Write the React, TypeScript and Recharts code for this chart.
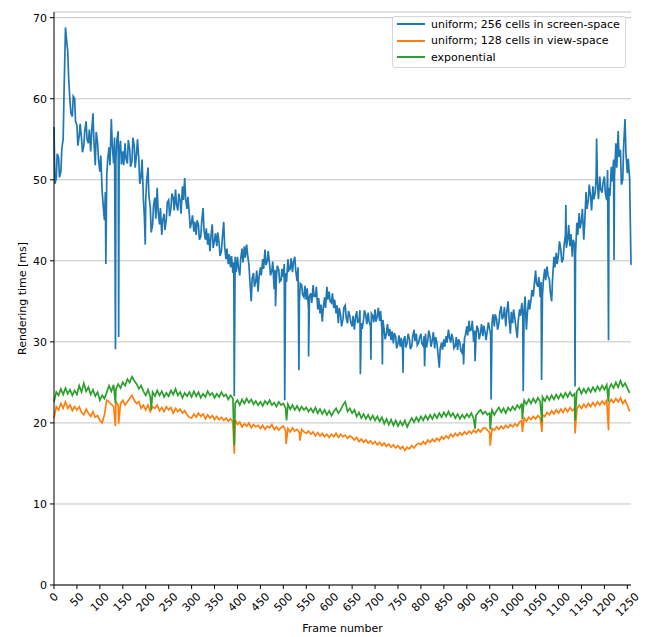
import { LineChart, Line, XAxis, YAxis, CartesianGrid } from "recharts";

// frames are sampled every STEP frames (plus an in-between sample for the noisy
// screen-space series); single-frame dips are listed separately
const STEP = 5;
const MID = 2;
const FONT = 11;

const seriesNames = [
  "uniform; 256 cells in screen-space",
  "uniform; 128 cells in view-space",
  "exponential",
];
const seriesColors = ["#1f77b4", "#ff7f0e", "#2ca02c"];

const xTicks = [
  0, 50, 100, 150, 200, 250, 300, 350, 400, 450, 500, 550, 600, 650, 700, 750,
  800, 850, 900, 950, 1000, 1050, 1100, 1150, 1200, 1250,
];
const yTicks = [0, 10, 20, 30, 40, 50, 60, 70];

const screenSpaceMs = [
  56.5, 50.2, 52.7, 51, 55, 68.8, 65.8, 59.6, 57.8, 60,
  56.7, 55.4, 55.1, 54.2, 57.2, 54.5, 53.5, 58.2, 51.8, 54.6,
  51, 48.6, 45, 50.5, 54, 57.5, 52, 52.5, 56, 54.8,
  53.5, 54.5, 52, 53.8, 52.3, 54.2, 53.2, 52.5, 50.5, 47.5,
  47.5, 51.5, 46.5, 44.5, 47.8, 49, 44.5, 43.2, 45.8, 45.2,
  47.5, 46.5, 47.8, 48.8, 46.2, 47.4, 49.2, 50.2, 46.4, 45.8,
  44.8, 43.6, 43.2, 44.4, 43, 46.5, 42.6, 42, 41.2, 44.5,
  42.5, 41.8, 42.2, 41.2, 44.8, 40.2, 39.6, 39.2, 38.5, 40.5,
  40.5, 38.2, 41.5, 41.8, 42, 39.5, 35, 38.5, 37.5, 36.2,
  39.2, 40.2, 41.4, 40, 39.6, 38.8, 36.5, 38, 38.9, 37.6,
  38, 38.5, 40.2, 39, 38.6, 40.5, 37.5, 35, 37, 35.5,
  35.2, 34, 36, 37, 35.6, 34, 33.5, 32.5, 35.5, 36.8,
  36.2, 34.8, 34.2, 33.5, 32.3, 33.2, 32.8, 34.5, 32.3, 33.2,
  31.9, 31.5, 33.8, 32.5, 32.3, 32.8, 33.2, 33.6, 32, 33.2,
  34, 33.2, 32.6, 31.5, 31.4, 31.1, 30.7, 30.2, 29.8, 30.6,
  29.8, 29.4, 29, 30.7, 29.9, 30.3, 29.5, 31.5, 31, 29.9,
  31, 29.5, 31, 30.2, 30.6, 30.3, 29.2, 29.8, 26.8, 29.9,
  30.3, 30.7, 31.5, 29.9, 30.3, 29.5, 29, 29.9, 28.6, 30.5,
  31.9, 32.6, 31.5, 30, 30.5, 31.5, 31.1, 30.7, 31.1, 31.5,
  31.5, 32.3, 31.9, 32.8, 32.3, 34.4, 33.2, 31.9, 35, 31,
  32.3, 32.8, 30.5, 34, 34.8, 34, 31.5, 35.2, 35.2, 35.6,
  38.8, 36.8, 35.5, 35.8, 39, 39.3, 37.7, 35, 40.5, 41,
  40.8, 41.4, 40.2, 43.2, 42.6, 41.8, 40.5, 42, 44.7, 45.9,
  45, 42.6, 48.5, 47.5, 47.9, 49.2, 48.4, 49.5, 50.4, 48.4,
  50.4, 47.5, 49, 51.6, 52.5, 54.5, 56, 53.7, 50, 57.5,
  50.8, 50.2,
];
// in-between samples (frame 5i + 2)
const screenSpaceMidMs = [
  49.5, 53.2, 50.3, 53.8, 61, 67.5, 62.5, 58.2, 60.3, 57.2,
  54.2, 56.9, 53.4, 56, 55, 56.2, 55.8, 54.8, 55.9, 52.5,
  53, 47, 48.5, 52.5, 51.8, 54.3, 55.2, 54.8, 53.2, 51.9,
  51.8, 52.6, 54.9, 51.6, 55.2, 51.5, 55, 49.5, 52.5, 45.5,
  49.8, 48, 43.5, 46.8, 45.2, 46.2, 46.5, 45, 43.8, 47.2,
  45.5, 48.3, 46.2, 47, 48.3, 45.8, 47.5, 47.6, 47.9, 44,
  45.6, 44.8, 45, 42.6, 44.8, 43.8, 44, 43.4, 42.9, 41.6,
  43.4, 43.5, 40.6, 42.8, 41.8, 41.5, 40.8, 40.6, 39.8, 38.6,
  39.2, 40.2, 39.8, 40.4, 40.8, 37.6, 37.8, 36.8, 38.8, 38,
  38.2, 39, 39.5, 41.2, 38.2, 39.9, 38.9, 39.4, 37.4, 39,
  39.6, 37.4, 38.8, 40.3, 39.8, 38.8, 39.2, 37.2, 35.8, 36.9,
  36.6, 35.6, 34.8, 35.6, 36.8, 35.4, 34.6, 34.2, 34.2, 35.2,
  35, 36, 35.2, 34.5, 34.2, 31.9, 34.2, 33, 33.8, 32.4,
  33.2, 32.9, 32.4, 33.9, 31.6, 33.9, 32.2, 32.5, 33.5, 32.4,
  32.5, 34.2, 33.8, 32.7, 30.3, 32.2, 31.6, 31.3, 31.1, 29.2,
  30.8, 30.5, 30.2, 29.3, 31, 29.1, 30.6, 30.1, 29.6, 30.5,
  29.8, 30.7, 29.3, 31.4, 29.4, 31.2, 30.6, 28.6, 29.2, 29,
  29.4, 29.9, 30.6, 31, 29.2, 30.6, 30.3, 28.9, 29.8, 30.8,
  30.8, 31.4, 32.6, 31.4, 32, 30.3, 32.2, 32, 30.2, 32.4,
  30.9, 33.4, 33.4, 31.5, 33.6, 32.8, 34.3, 33.6, 33, 33.7,
  34, 31.8, 32.5, 33.2, 33.2, 35.6, 33.5, 34, 36.4, 37,
  37.2, 38, 37.4, 37.6, 37.6, 38.2, 36.2, 37.8, 39.2, 39.6,
  42.4, 39.8, 41.8, 41.6, 44.4, 43.3, 42.6, 40.8, 43.2, 44,
  46.4, 44.6, 46.4, 49.4, 46.2, 47.6, 50.4, 47.6, 48.8, 49.6,
  48.4, 51.2, 48, 49.8, 50.4, 51.5, 52.8, 49.4, 54.2, 53.2,
  52.6,
];
const screenSpaceSpikes: [number, number][] = [
  [113, 39.6], [134, 29.1], [141, 30.6], [199, 42], [393, 23.3], [483, 34.4],
  [503, 22.8], [534, 26.5], [555, 28.2], [668, 26], [691, 27.8], [716, 27.2],
  [761, 26.2], [808, 27], [893, 27.2], [918, 27.6], [953, 22.9], [1023, 23.9],
  [1063, 25.3], [1116, 46.9], [1136, 24.5], [1183, 55.1], [1209, 30.2],
  [1221, 40.1], [1258, 39.5],
];

const viewSpaceMs = [
  20.6, 22, 21.6, 22.4, 21.8, 22.6, 21.8, 22.2, 21.5, 22,
  21.6, 22, 21.3, 21, 21.7, 21.2, 20.8, 21.4, 20.7, 20.9,
  20.3, 20, 21, 22.8, 22.6, 22.3, 22, 22.6, 22.2, 22.4,
  22.8, 22.2, 22.6, 23, 23.4, 22.8, 22.4, 22.6, 21.8, 22.2,
  21.6, 22.2, 21.4, 22, 21.8, 22.2, 21.5, 21.9, 21.4, 22,
  21.6, 21.9, 21.2, 21.8, 21.4, 21.7, 21.2, 21.5, 21, 20.7,
  20.6, 21.1, 20.7, 21.2, 20.8, 21.1, 20.5, 21, 20.6, 20.9,
  20.4, 20.8, 20.4, 20.7, 20.3, 20.6, 20.2, 20.5, 20.1, 20.4,
  19.8, 20.1, 19.5, 19.9, 19.6, 20, 19.4, 19.8, 19.5, 19.7,
  19.3, 19.7, 19.2, 19.6, 19.4, 19.8, 19.2, 19.5, 19.1, 19.4,
  19.6, 19, 19.3, 18.9, 19.4, 19, 19.2, 18.8, 19.2, 18.9,
  18.7, 19, 18.6, 18.9, 18.4, 18.8, 18.4, 18.7, 18.3, 18.6,
  18.2, 18.6, 18.3, 18.7, 18.2, 18.6, 18.3, 18.5, 18.1, 18.4,
  18.2, 17.9, 18.2, 17.7, 18, 17.6, 17.9, 17.5, 17.8, 17.4,
  17.7, 17.3, 17.6, 17.2, 17.5, 17.1, 17.4, 17, 17.3, 16.9,
  17.2, 16.8, 17.1, 16.6, 17, 16.8, 17.2, 16.9, 17.3, 17.5,
  17.3, 17.7, 17.4, 17.9, 17.6, 18, 17.7, 18.1, 17.8, 18.3,
  18, 18.4, 18.1, 18.6, 18.3, 18.7, 18.4, 18.8, 18.5, 18.9,
  18.6, 19, 18.7, 19.1, 18.8, 19.2, 18.9, 19.3, 19.4, 19.1,
  18.8, 19.3, 19.1, 19.5, 19.2, 19.6, 19.3, 19.7, 19.4, 19.8,
  19.5, 19.9, 19.6, 20.1, 20.3, 20.6, 20.2, 20.7, 20.4, 20.8,
  20.5, 20.9, 20.6, 21, 20.8, 21.3, 21, 21.5, 21.1, 21.6,
  21.2, 21.7, 21.3, 21.8, 21.4, 21.9, 21.5, 21.8, 21.7, 22.2,
  21.8, 22.3, 21.9, 22.4, 22, 22.5, 22.1, 22.6, 22.2, 22.7,
  22.3, 22.8, 22.4, 22.9, 22.5, 23, 22.6, 23.1, 22.4, 22.8,
  22.2, 21.4,
];
const viewSpaceSpikes: [number, number][] = [
  [134, 19.6], [141, 19.9], [393, 16.2], [506, 17.4], [536, 17.8],
  [951, 17.2], [1021, 18.9], [1064, 18.9], [1136, 18.7], [1209, 19.1],
];

const exponentialMs = [
  22.6, 23.8, 23.4, 24.2, 23.5, 24.3, 23.6, 24.1, 23.4, 24,
  23.5, 24.6, 23.8, 24.9, 23.9, 24.4, 23.5, 24.1, 23.3, 23.8,
  22.8, 23.4, 23, 23.8, 24.6, 23.9, 24.7, 24.2, 24.8, 24.3,
  25, 24.6, 25.4, 25, 25.7, 25.2, 24.8, 24.2, 24.6, 23.9,
  23.4, 24.1, 23.2, 23.8, 23.3, 24, 23.4, 23.9, 23.2, 23.7,
  23.3, 24, 23.5, 24.2, 23.4, 23.8, 23.1, 23.7, 23.3, 23.8,
  23.2, 23.9, 23.3, 23.8, 23.1, 23.6, 23.2, 23.9, 23.4, 23.7,
  23.1, 23.6, 23.2, 23.8, 23.3, 23.5, 22.9, 23.4, 23, 22.4,
  22.8, 22.2, 22.9, 22.4, 23, 22.5, 22.9, 22.3, 22.7, 22.2,
  22.6, 22.1, 22.7, 22.3, 22.8, 22.2, 22.5, 22, 22.6, 22.2,
  22.4, 21.8, 22.3, 21.7, 22.2, 21.6, 22.1, 21.5, 22, 21.6,
  21.9, 21.4, 21.8, 21.3, 21.9, 21.2, 21.7, 21.1, 21.6, 21,
  21.5, 20.9, 21.4, 21.8, 21.2, 21.6, 22.2, 22.6, 21.4, 21.8,
  21.2, 21.6, 20.8, 21.3, 20.6, 21.1, 20.5, 21, 20.4, 20.9,
  20.3, 20.8, 20.2, 20.7, 19.9, 20.5, 19.8, 20.4, 19.7, 20.3,
  19.6, 20.2, 19.7, 20.3, 19.5, 20.1, 20.6, 20.1, 20.7, 20.2,
  20.8, 20.3, 20.9, 20.4, 21, 20.5, 21.1, 20.6, 21.2, 20.7,
  21.3, 20.8, 21.4, 20.8, 21.2, 20.6, 21.1, 20.5, 21, 20.6,
  21.1, 20.7, 21.2, 20.5, 20.9, 21.3, 21.6, 21.1, 21.4, 21,
  21.2, 21.6, 21, 21.5, 21.9, 21.3, 21.8, 21.2, 21.9, 21.5,
  22, 21.6, 22.2, 21.8, 22.4, 22.8, 22.3, 22.9, 22.4, 23,
  22.5, 23.1, 22.6, 23.2, 22.7, 23.3, 22.8, 23.4, 22.9, 23.5,
  23, 23.6, 23.1, 23.7, 23.2, 23.8, 23.3, 23.6, 23.9, 24.3,
  23.6, 24.2, 23.7, 24.3, 23.8, 24.4, 23.9, 24.5, 24, 24.6,
  24.1, 24.7, 24.2, 24.8, 24.3, 25, 24.4, 25.2, 24.5, 24.9,
  24.3, 23.7,
];
const exponentialSpikes: [number, number][] = [
  [134, 22.4], [212, 21.6], [393, 17.2], [507, 20.3], [918, 19.3],
  [951, 19.2], [1021, 20.5], [1064, 20.1], [1136, 20.3], [1209, 22.6],
];

function buildSeries(
  values: number[],
  spikes: [number, number][],
  mids: number[] = []
) {
  const pts = values.map((ms, i) => ({ frame: i * STEP, ms }));
  mids.forEach((ms, i) => pts.push({ frame: i * STEP + MID, ms }));
  spikes.forEach(([frame, ms]) => pts.push({ frame, ms }));
  return pts.sort((a, b) => a.frame - b.frame);
}

const series = [
  buildSeries(screenSpaceMs, screenSpaceSpikes, screenSpaceMidMs),
  buildSeries(viewSpaceMs, viewSpaceSpikes),
  buildSeries(exponentialMs, exponentialSpikes),
];

// rotated label whose bounding box is centred under the tick, like matplotlib
function FrameTick({ x, y, payload }: any) {
  const label = String(payload.value);
  const off = (label.length * 0.64 * FONT + FONT) / 2.83;
  return (
    <g transform={`translate(${x},${y + off})`}>
      <text
        transform="rotate(-45)"
        textAnchor="middle"
        dominantBaseline="central"
        fontSize={FONT}
        fill="#000"
      >
        {label}
      </text>
    </g>
  );
}

export default function App() {
  return (
    <div
      style={{
        position: "absolute",
        left: 0,
        top: 0,
        width: 649,
        height: 637,
        background: "#fff",
        fontFamily: "'DejaVu Sans', sans-serif",
      }}
    >
      <LineChart
        width={649}
        height={637}
        margin={{ top: 12, right: 18, bottom: 0, left: 0 }}
      >
        <CartesianGrid vertical={false} stroke="#c4c4c4" strokeWidth={1} />
        <XAxis
          dataKey="frame"
          type="number"
          domain={[0, 1258]}
          ticks={xTicks}
          height={52}
          tickSize={4}
          tickMargin={2}
          stroke="#000"
          tick={<FrameTick />}
          interval={0}
          label={(props: any) => {
            const vb = props.viewBox;
            return (
              <text
                x={vb.x + vb.width / 2}
                y={vb.y + 47}
                textAnchor="middle"
                fontSize={FONT}
                fill="#000"
              >
                Frame number
              </text>
            );
          }}
        />
        <XAxis
          xAxisId="top"
          orientation="top"
          type="number"
          domain={[0, 1258]}
          height={0}
          tick={false}
          tickLine={false}
          stroke="#000"
        />
        <YAxis
          type="number"
          domain={[0, 70.7]}
          ticks={yTicks}
          width={54}
          tickSize={4}
          tickMargin={3}
          stroke="#000"
          tick={{ fill: "#000", fontSize: FONT }}
          interval={0}
          label={(props: any) => {
            const vb = props.viewBox;
            const cx = vb.x + 22;
            const cy = vb.y + vb.height / 2;
            return (
              <text
                x={cx}
                y={cy}
                transform={`rotate(-90 ${cx} ${cy})`}
                textAnchor="middle"
                dominantBaseline="central"
                fontSize={FONT}
                fill="#000"
              >
                Rendering time [ms]
              </text>
            );
          }}
        />
        <YAxis
          yAxisId="right"
          orientation="right"
          width={0}
          tick={false}
          tickLine={false}
          stroke="#000"
        />
        {series.map((data, i) => (
          <Line
            key={seriesNames[i]}
            data={data}
            dataKey="ms"
            name={seriesNames[i]}
            type="linear"
            stroke={seriesColors[i]}
            strokeWidth={1.7}
            dot={false}
            activeDot={false}
            isAnimationActive={false}
          />
        ))}
      </LineChart>
      <div
        style={{
          position: "absolute",
          left: 392,
          top: 16,
          width: 234,
          height: 52,
          boxSizing: "border-box",
          border: "1px solid #d6d6d6",
          borderRadius: 3,
          background: "rgba(255,255,255,0.85)",
          fontSize: FONT,
          color: "#000",
        }}
      >
        {seriesNames.map((name, i) => (
          <div
            key={name}
            style={{
              position: "absolute",
              left: 4,
              top: -1 + i * 16.5,
              height: 16,
              display: "flex",
              alignItems: "center",
              whiteSpace: "nowrap",
            }}
          >
            <span
              style={{
                display: "inline-block",
                width: 28,
                height: 0,
                borderTop: `2px solid ${seriesColors[i]}`,
                marginRight: 6,
              }}
            />
            {name}
          </div>
        ))}
      </div>
    </div>
  );
}
